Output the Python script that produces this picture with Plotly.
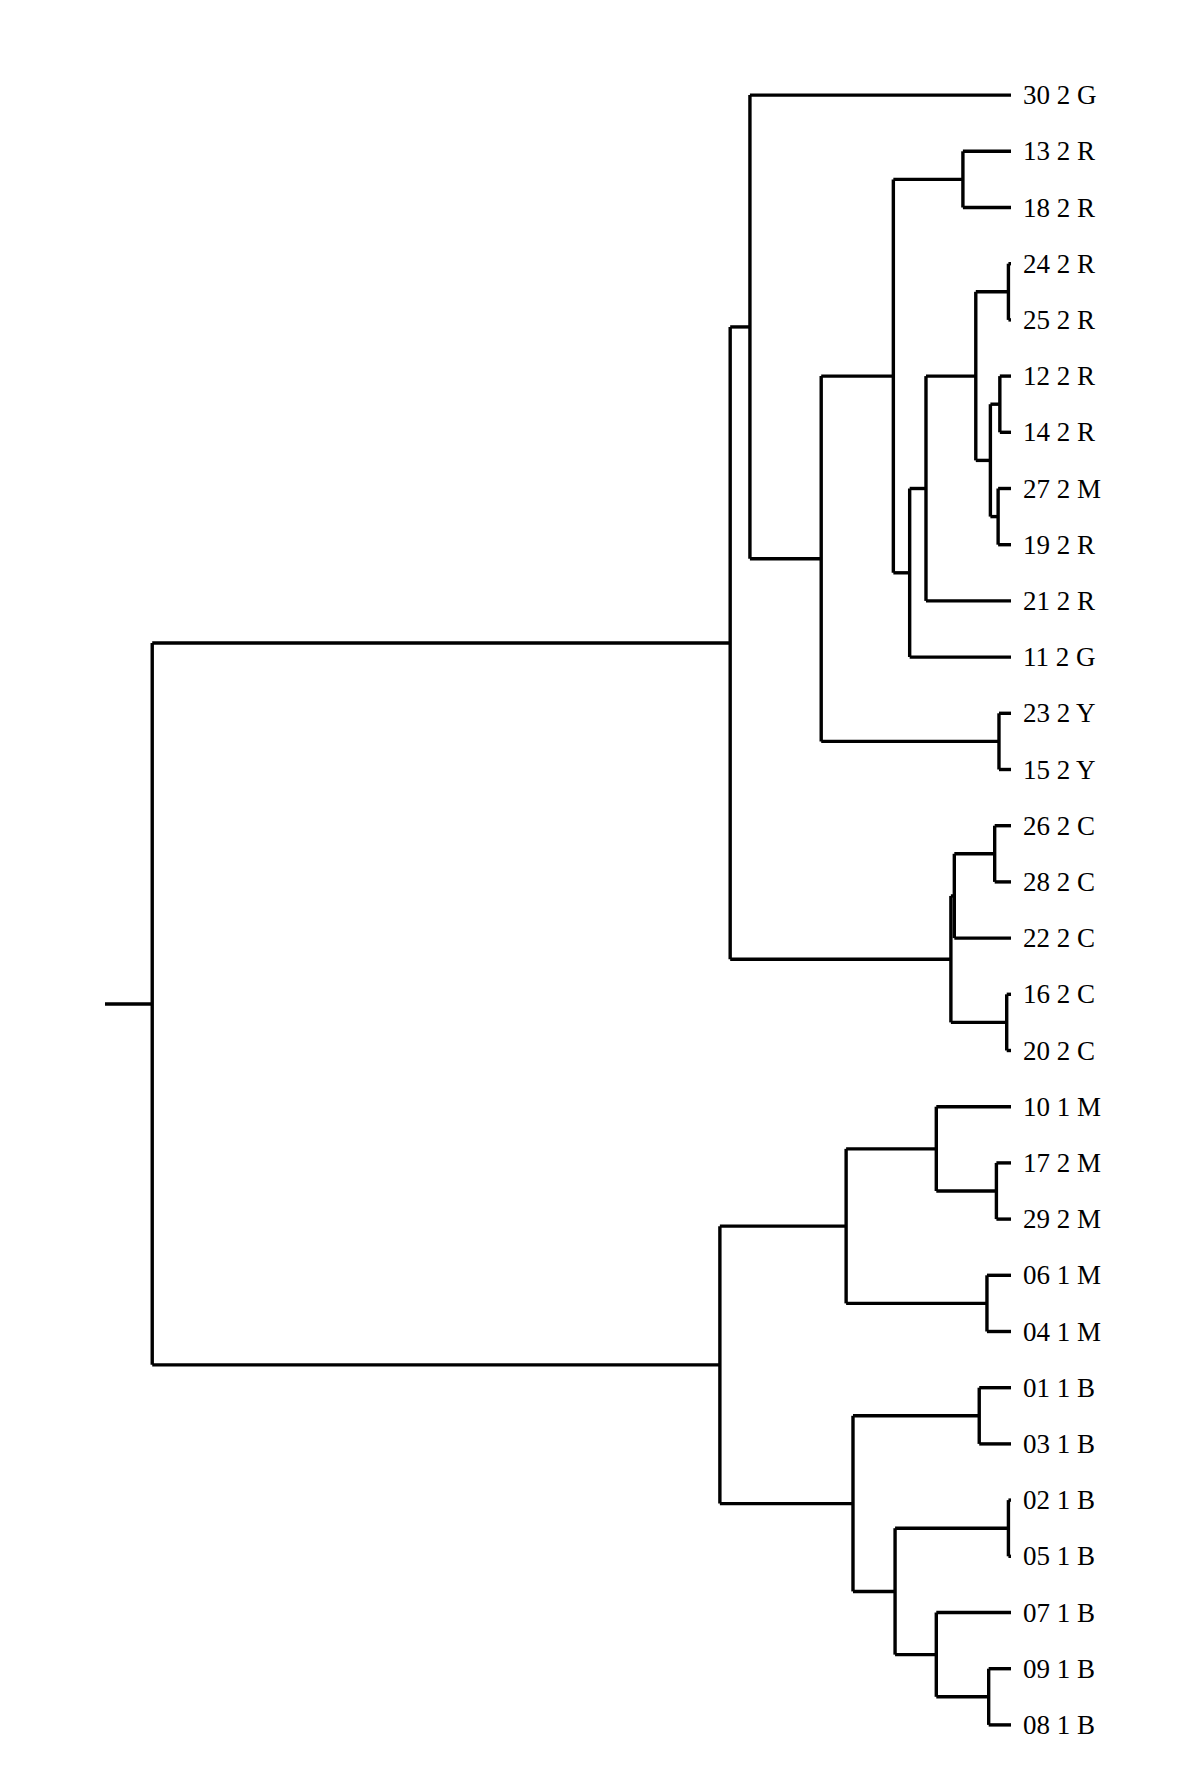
import plotly.graph_objects as go

# ---- data -------------------------------------------------------------
leaf_labels = [
    "30 2 G", "13 2 R", "18 2 R", "24 2 R", "25 2 R", "12 2 R", "14 2 R",
    "27 2 M", "19 2 R", "21 2 R", "11 2 G", "23 2 Y", "15 2 Y", "26 2 C",
    "28 2 C", "22 2 C", "16 2 C", "20 2 C", "10 1 M", "17 2 M", "29 2 M",
    "06 1 M", "04 1 M", "01 1 B", "03 1 B", "02 1 B", "05 1 B", "07 1 B",
    "09 1 B", "08 1 B",
]

node_names = ["n1", "n2", "n3", "n4", "n5", "n6", "n7", "n8", "n9", "n10",
              "n11", "n12", "n13", "n14", "n15", "n16", "n17", "n18", "n19",
              "n20", "n21", "n22", "n23", "n24", "n25", "n26", "n27", "n28",
              "root"]
left_child = ["13 2 R", "24 2 R", "12 2 R", "27 2 M", "n3", "n2", "n6", "n7",
              "n1", "23 2 Y", "n9", "30 2 G", "26 2 C", "n13", "16 2 C", "n14",
              "n12", "17 2 M", "10 1 M", "06 1 M", "n19", "01 1 B", "02 1 B",
              "09 1 B", "07 1 B", "n23", "n22", "n21", "n17"]
right_child = ["18 2 R", "25 2 R", "14 2 R", "19 2 R", "n4", "n5", "21 2 R",
               "11 2 G", "n8", "15 2 Y", "n10", "n11", "28 2 C", "22 2 C",
               "20 2 C", "n15", "n16", "29 2 M", "n18", "04 1 M", "n20",
               "03 1 B", "05 1 B", "08 1 B", "n24", "n25", "n26", "n27", "n28"]
node_height = [0.056, 0.003, 0.013, 0.015, 0.024, 0.041, 0.099, 0.118,
               0.137, 0.014, 0.221, 0.304, 0.019, 0.066, 0.005, 0.070,
               0.327, 0.017, 0.087, 0.028, 0.192, 0.037, 0.003, 0.026,
               0.087, 0.135, 0.184, 0.339, 1.000]
root_branch = 0.055

# ---- layout of the tree ------------------------------------------------
pos_y = {lab: i for i, lab in enumerate(leaf_labels)}
pos_x = {lab: 0.0 for lab in leaf_labels}

xs, ys = [], []
for name, lc, rc, h in zip(node_names, left_child, right_child, node_height):
    yl, yr = pos_y[lc], pos_y[rc]
    for c in (lc, rc):
        xs += [pos_x[c], h, None]
        ys += [pos_y[c], pos_y[c], None]
    xs += [h, h, None]
    ys += [yl, yr, None]
    pos_y[name] = (yl + yr) / 2.0
    pos_x[name] = h

root = node_names[-1]
xs += [pos_x[root], pos_x[root] + root_branch, None]
ys += [pos_y[root], pos_y[root], None]

fig = go.Figure()
fig.add_trace(go.Scatter(
    x=xs, y=ys, mode="lines",
    line=dict(color="black", width=3.4),
    hoverinfo="skip", showlegend=False,
))

for lab in leaf_labels:
    fig.add_annotation(
        x=0, y=pos_y[lab], xref="x", yref="y", text=lab,
        showarrow=False, xanchor="left", yanchor="middle", xshift=10,
        font=dict(family="Liberation Serif, Times New Roman, serif",
                  size=27, color="black"),
    )

n = len(leaf_labels)
fig.update_layout(
    width=1200, height=1782,
    margin=dict(l=97, r=197, t=59, b=37),
    paper_bgcolor="white", plot_bgcolor="white",
    xaxis=dict(range=[pos_x[root] + root_branch, 0], visible=False,
               showgrid=False, zeroline=False),
    yaxis=dict(range=[n - 0.5, -0.5], visible=False,
               showgrid=False, zeroline=False),
)

fig.write_html("out.html")
